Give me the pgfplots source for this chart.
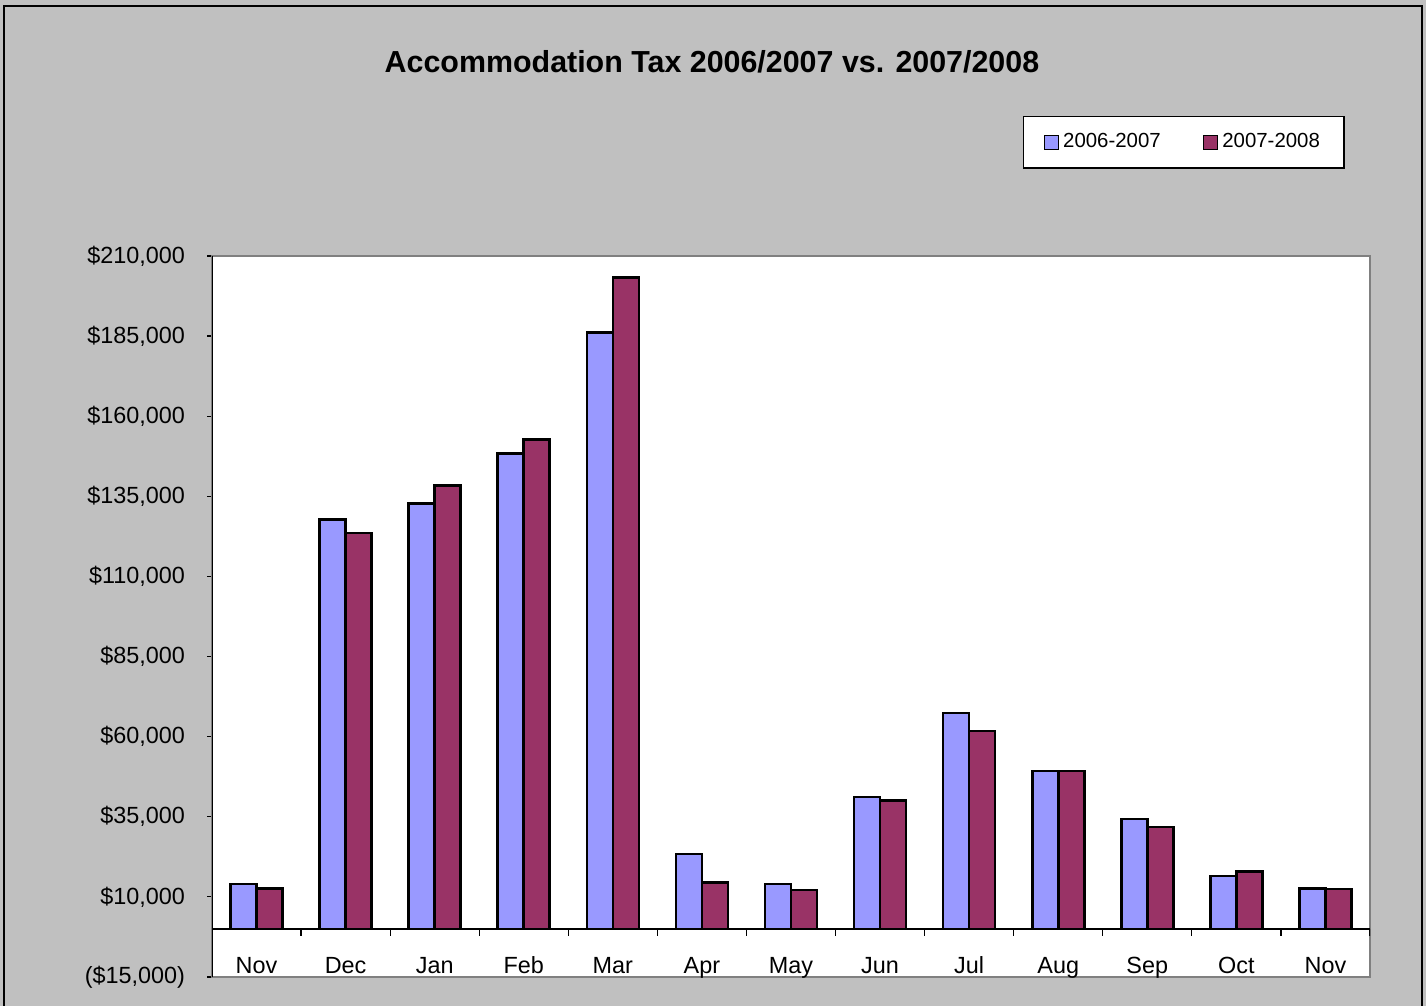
\documentclass[border=0pt]{standalone}
\usepackage{pgfplots}
\pgfplotsset{compat=1.18}
\usepackage{fontspec}
\setmainfont{Liberation Sans}
\definecolor{bgray}{HTML}{C0C0C0}
\definecolor{cblue}{HTML}{9999FF}
\definecolor{cred}{HTML}{993366}
\begin{document}
\begin{tikzpicture}
\useasboundingbox (0,0) rectangle (713pt,503pt);
\fill[bgray] (0,0) rectangle (713pt,503pt);
\draw[black,line width=0.6pt] (2pt,-5pt) rectangle (711pt,500pt);
\node[font=\bfseries\fontsize{15.2}{18}\selectfont] at (356pt,472pt) {Accommodation Tax 2006/2007 vs. 2007/2008};
\begin{axis}[
  at={(106pt,14.5pt)}, anchor=south west,
  scale only axis, width=579pt, height=360.5pt,
  ymin=-15000, ymax=210000,
  xmin=-0.5, xmax=12.5,
  ybar=0pt, bar width=13pt,
  axis background/.style={fill=white},
  axis line style={draw=gray, line width=1pt},
  ytick={-15000,10000,35000,60000,85000,110000,135000,160000,185000,210000},
  yticklabels={{(\$15,000)},{\$10,000},{\$35,000},{\$60,000},{\$85,000},{\$110,000},{\$135,000},{\$160,000},{\$185,000},{\$210,000}},
  xtick={0,...,12},
  xticklabels={Nov,Dec,Jan,Feb,Mar,Apr,May,Jun,Jul,Aug,Sep,Oct,Nov},
  tick label style={font=\fontsize{11.7}{14}\selectfont},
  xticklabel style={anchor=base, yshift=4pt},
  x tick style={draw=none},
  y tick style={black, line width=0.6pt},
  ytick pos=left,
  tick align=outside, major tick length=2.5pt,
  yticklabel style={xshift=-7.5pt},
  scaled y ticks=false,
  legend columns=2,
  legend style={at={(rel axis cs:0.978,1.194)}, anchor=north east,
    draw=black, fill=white, line width=0.6pt,
    font=\fontsize{10.2}{12}\selectfont,
    inner xsep=10pt, inner ysep=6.5pt,
    /tikz/every even column/.append style={column sep=19pt}},
  legend image code/.code={\draw[#1, line width=0.6pt] (0pt,-3.6pt) rectangle (7.2pt,3.6pt);},
]
\addplot[fill=cblue, draw=black, line width=1.3pt] coordinates {
(0,14000) (1,127700) (2,132700) (3,148300) (4,186100) (5,23400) (6,14000)
(7,41200) (8,67400) (9,49300) (10,34300) (11,16500) (12,12700)};
\addplot[fill=cred, draw=black, line width=1.3pt] coordinates {
(0,12600) (1,123600) (2,138300) (3,152700) (4,203200) (5,14400) (6,12200)
(7,40000) (8,61800) (9,49300) (10,31800) (11,18000) (12,12400)};
\legend{2006-2007,2007-2008}
\draw[black, line width=0.6pt] (axis cs:-0.5,0) -- (axis cs:12.5,0);
\pgfplotsinvokeforeach{0.5,1.5,2.5,3.5,4.5,5.5,6.5,7.5,8.5,9.5,10.5,11.5,12.5}{
  \draw[black, line width=0.6pt] (axis cs:#1,0) -- (axis cs:#1,-2200);
}
\draw[black, line width=0.9pt] (rel axis cs:0,0) -- (rel axis cs:0,1);
\end{axis}
\end{tikzpicture}
\end{document}
